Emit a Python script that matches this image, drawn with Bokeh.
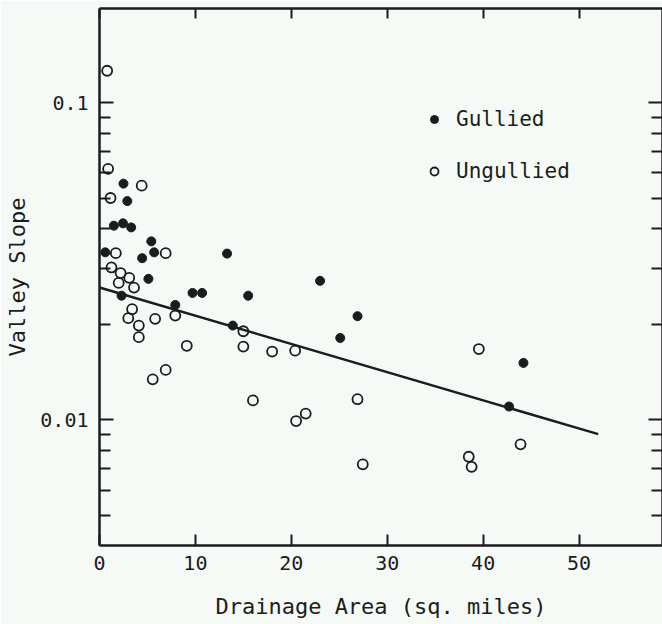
from bokeh.plotting import figure
from bokeh.models import (LinearAxis, LogAxis, FixedTicker, Legend, LegendItem,
                          Range1d, ColumnDataSource)
from bokeh.embed import file_html
from bokeh.resources import INLINE

# ---- data ----
gullied_x = [2.5, 2.9, 1.5, 2.45, 3.3, 5.4, 5.7, 4.45, 0.6, 5.1, 2.3, 9.7, 10.7,
             7.9, 13.3, 23.0, 15.5, 13.9, 26.9, 25.1, 44.2, 42.7]
gullied_y = [0.0555, 0.0489, 0.0409, 0.0416, 0.0404, 0.0365, 0.0337, 0.0323,
             0.0337, 0.0278, 0.0246, 0.0251, 0.0251, 0.0230, 0.0334, 0.0274,
             0.0246, 0.0198, 0.0212, 0.0181, 0.0151, 0.0110]

ungullied_x = [0.8, 0.9, 4.4, 1.15, 6.9, 1.7, 1.25, 2.2, 3.1, 2.0, 3.6, 7.9, 3.4,
               3.0, 4.1, 4.1, 5.8, 9.1, 6.9, 5.55, 15.0, 15.0, 18.0, 20.4, 16.0,
               20.5, 21.5, 39.55, 26.9, 27.45, 38.5, 38.8, 43.9]
ungullied_y = [0.126, 0.0618, 0.0547, 0.0500, 0.0335, 0.0335, 0.0302, 0.0290,
               0.0280, 0.0270, 0.0261, 0.0213, 0.0223, 0.0209, 0.0198, 0.0182,
               0.0208, 0.0171, 0.01435, 0.0134, 0.0190, 0.0170, 0.0164, 0.0165,
               0.0115, 0.0099, 0.01045, 0.0167, 0.0116, 0.00723, 0.00764,
               0.0071, 0.00836]

fit_x = [0, 52]
fit_y = [0.0261, 0.0090]

x_ticks = [0, 10, 20, 30, 40, 50]
y_ticks = [0.01, 0.1]
y_tick_labels = ["0.01", "0.1"]
y_minor = [0.005, 0.006, 0.007, 0.008, 0.009,
           0.02, 0.03, 0.04, 0.05, 0.06, 0.07, 0.08, 0.09]

x_title = "Drainage Area (sq. miles)"
y_title = "Valley Slope"
labels = ["Gullied", "Ungullied"]

# ---- style ----
INK = "#1c1c1c"
BG = "#f5faf6"
FONT = "DejaVu Sans Mono"

p = figure(width=662, height=624, x_range=Range1d(0, 58.7),
           y_range=Range1d(0.00401, 0.198), y_axis_type="log",
           output_backend="svg", toolbar_location=None,
           min_border_left=99, min_border_right=0, min_border_top=8,
           min_border_bottom=79)
p.grid.visible = False
p.outline_line_color = None
p.background_fill_color = BG
p.border_fill_color = BG

xt = FixedTicker(ticks=x_ticks)
yt = FixedTicker(ticks=y_ticks, minor_ticks=y_minor)

def style_axis(ax):
    ax.axis_line_color = INK
    ax.axis_line_width = 2.5
    ax.major_tick_line_color = INK
    ax.major_tick_line_width = 2
    ax.minor_tick_line_color = INK
    ax.minor_tick_line_width = 2
    ax.major_tick_out = 0
    ax.minor_tick_out = 0
    ax.major_label_text_font = FONT
    ax.major_label_text_color = INK
    ax.axis_label_text_font = FONT
    ax.axis_label_text_color = INK
    ax.axis_label_text_font_style = "normal"

xa = p.xaxis[0]
xa.ticker = xt
style_axis(xa)
xa.major_tick_in = 11
xa.major_label_text_font_size = "20px"
xa.major_label_standoff = 10
xa.axis_label = x_title
xa.axis_label_text_font_size = "22px"
xa.axis_label_standoff = 21

ya = p.yaxis[0]
ya.ticker = yt
style_axis(ya)
ya.major_tick_in = 14
ya.minor_tick_in = 11
ya.major_label_overrides = dict(zip(y_ticks, y_tick_labels))
ya.major_label_text_font_size = "20px"
ya.major_label_standoff = 11
ya.axis_label = y_title
ya.axis_label_text_font_size = "22px"
ya.axis_label_standoff = 7

top = LinearAxis(ticker=xt)
style_axis(top)
top.major_tick_in = 10
top.major_label_overrides = {t: "" for t in x_ticks}
top.major_label_text_font_size = "1px"
top.major_label_standoff = 0
p.add_layout(top, "above")

right = LogAxis(ticker=yt)
style_axis(right)
right.major_tick_in = 14
right.minor_tick_in = 11
right.major_label_overrides = {t: "" for t in y_ticks}
right.major_label_text_font_size = "1px"
right.major_label_standoff = 0
p.add_layout(right, "right")

# ---- marks ----
p.line(fit_x, fit_y, line_color=INK, line_width=2.5)

src_g = ColumnDataSource(dict(x=gullied_x, y=gullied_y))
src_u = ColumnDataSource(dict(x=ungullied_x, y=ungullied_y))
r_u = p.scatter("x", "y", source=src_u, marker="circle", size=10,
                fill_alpha=0, line_color=INK, line_width=1.8)
r_g = p.scatter("x", "y", source=src_g, marker="circle", size=9,
                fill_color=INK, line_color=INK, line_width=1)

legend = Legend(items=[LegendItem(label=labels[0], renderers=[r_g]),
                       LegendItem(label=labels[1], renderers=[r_u])],
                location=(325, 362), glyph_width=20, glyph_height=20,
                label_standoff=12, spacing=28, padding=0, margin=0,
                border_line_color=None, background_fill_alpha=0,
                label_text_font=FONT, label_text_font_size="21px",
                label_text_color=INK)
p.add_layout(legend)

open("out.html", "w").write(file_html(p, INLINE))
